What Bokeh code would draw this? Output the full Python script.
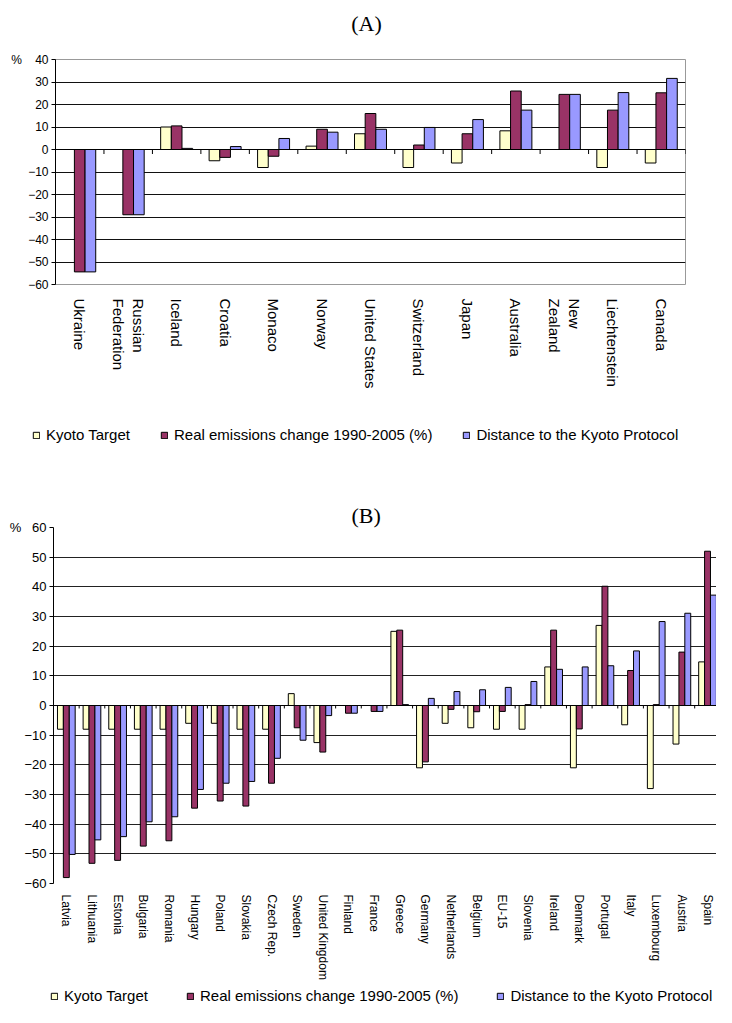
import numpy as np
from math import pi
from bokeh.plotting import figure
from bokeh.models import Range1d, FixedTicker, Legend, LegendItem, Label, Title
from bokeh.layouts import column
from bokeh.embed import file_html
from bokeh.resources import INLINE

# ---------------- data ----------------
series_names = ["Kyoto Target", "Real emissions change 1990-2005 (%)", "Distance to the Kyoto Protocol"]
series_colors = ["#FFFFCC", "#993366", "#9999FF"]

countries_a = ["Ukraine", "Russian\nFederation", "Iceland", "Croatia", "Monaco", "Norway",
               "United States", "Switzerland", "Japan", "Australia", "New\nZealand",
               "Liechtenstein", "Canada"]
kyoto_a = [0, 0, 10, -5, -8, 1.5, 7, -8, -6, 8.3, 0, -8, -6]
real_a = [-54.4, -29, 10.5, -3.5, -3, 9, 16, 2, 7, 26, 24.5, 17.5, 25.2]
dist_a = [-54.4, -29, 0.5, 1.3, 4.9, 7.7, 9, 9.8, 13.3, 17.5, 24.5, 25.3, 31.6]

countries_b = ["Latvia", "Lithuania", "Estonia", "Bulgaria", "Romania", "Hungary", "Poland",
               "Slovakia", "Czech Rep.", "Sweden", "United Kingdom", "Finland", "France",
               "Greece", "Germany", "Netherlands", "Belgium", "EU-15", "Slovenia", "Ireland",
               "Denmark", "Portugal", "Italy", "Luxembourg", "Austria", "Spain"]
kyoto_b = [-8, -8, -8, -8, -8, -6, -6, -8, -8, 4, -12.5, 0, 0, 25, -21, -6, -7.5, -8, -8,
           13, -21, 27, -6.5, -28, -13, 14.7]
real_b = [-58, -53.2, -52.2, -47.4, -45.6, -34.6, -32.2, -33.9, -26.2, -7.5, -15.7, -2.6, -2,
          25.4, -19, -1.3, -2.1, -2, 0.3, 25.4, -7.9, 40.2, 11.8, 0.3, 18, 52]
dist_b = [-50.2, -45.3, -44.2, -39.2, -37.5, -28.3, -26.2, -25.6, -17.8, -11.7, -3.4, -2.6, -2,
          0.3, 2.4, 4.7, 5.3, 6.1, 8.1, 12.2, 13, 13.4, 18.4, 28.3, 31.1, 37.2]

yticks_a = list(range(-60, 41, 10))
yticks_b = list(range(-60, 61, 10))

SANS = "Liberation Sans"
SERIF = "Liberation Serif"
W = 716
NB = "\u00a0"


def blank(height):
    """A figure whose frame is the whole canvas (used for titles / legends)."""
    f = figure(width=W, height=height, output_backend="svg", toolbar_location=None,
               title=None, x_axis_type=None, y_axis_type=None,
               x_range=Range1d(0, W), y_range=Range1d(0, height),
               min_border=0, min_border_left=0, min_border_right=0,
               min_border_top=0, min_border_bottom=0, frame_align=False)
    f.outline_line_color = None
    f.background_fill_color = "white"
    f.border_fill_color = "white"
    f.grid.visible = False
    return f


def legend_fig(height, cats, vals, loc, spacing):
    f = blank(height)
    rs = []
    for vv, col in zip(vals, series_colors):
        r = f.vbar(x=np.arange(len(cats)), top=vv, bottom=0, width=0.2,
                   fill_color=col, line_color="black", line_width=1, visible=False)
        rs.append(r)
    lg = Legend(items=[LegendItem(label=s, renderers=[r]) for s, r in zip(series_names, rs)],
                orientation="horizontal", location=loc, padding=0, margin=0,
                spacing=spacing, glyph_width=8, glyph_height=8, label_standoff=6,
                label_height=16, label_text_font=SANS, label_text_font_size="15px",
                label_text_color="black", border_line_color=None, background_fill_alpha=0,
                inactive_fill_alpha=0)
    f.add_layout(lg, "center")
    return f


def make_panel(cats, vals, yticks, width, height, borders, x_end, bar_w,
               xlab_size, ylab_size, xlab_standoff, tick_len, outline, grid_color, pct_gap):
    n = len(cats)
    p = figure(width=width, height=height, output_backend="svg", toolbar_location=None,
               title=None, frame_align=False,
               x_range=Range1d(-0.5, x_end), y_range=Range1d(yticks[0], yticks[-1]),
               min_border_left=borders[0], min_border_right=borders[1],
               min_border_top=borders[2], min_border_bottom=borders[3])
    p.outline_line_color = outline
    p.background_fill_color = "white"
    p.border_fill_color = "white"
    p.xgrid.grid_line_color = None
    p.ygrid.ticker = FixedTicker(ticks=yticks)
    p.ygrid.grid_line_color = grid_color
    p.ygrid.grid_line_width = 1

    # y axis ("%" unit shown next to the top tick)
    p.yaxis.ticker = FixedTicker(ticks=yticks)
    p.yaxis.major_label_overrides = {yticks[-1]: "%" + NB * pct_gap + str(yticks[-1])}
    p.yaxis.axis_line_color = "black"
    p.yaxis.major_tick_in = 0
    p.yaxis.major_tick_out = 4
    p.yaxis.minor_tick_line_color = None
    p.yaxis.major_label_standoff = 3
    p.yaxis.major_label_text_font = SANS
    p.yaxis.major_label_text_font_size = ylab_size
    p.yaxis.major_label_text_color = "black"

    # x axis (category labels only)
    xa = p.xaxis[0]
    xa.ticker = FixedTicker(ticks=list(range(n)))
    xa.major_label_overrides = {i: c for i, c in enumerate(cats)}
    xa.major_label_orientation = -pi / 2
    xa.axis_line_color = None
    xa.major_tick_line_color = None
    xa.major_tick_out = 0
    xa.major_tick_in = 0
    xa.minor_tick_line_color = None
    xa.major_label_standoff = xlab_standoff
    xa.major_label_text_font = SANS
    xa.major_label_text_font_size = xlab_size
    xa.major_label_text_color = "black"

    base = np.arange(n)
    for j, (vv, col) in enumerate(zip(vals, series_colors)):
        p.vbar(x=base + (j - 1) * bar_w, top=vv, bottom=0, width=bar_w,
               fill_color=col, line_color="black", line_width=1)

    # category axis at zero with tick marks between categories
    p.segment(x0=[-0.5], y0=[0], x1=[x_end], y1=[0], line_color="black", line_width=1)
    bnd = np.arange(n + 1) - 0.5
    p.segment(x0=bnd, y0=np.zeros(n + 1), x1=bnd, y1=np.full(n + 1, -tick_len),
              line_color="black", line_width=1)
    return p


# ---- (A) title strip: y 0..40
top_a = blank(40)
top_a.add_layout(Label(x=366, y=17.5, text="(A)", text_font=SERIF, text_font_size="22px",
                       text_align="center", text_baseline="middle", text_color="black"))

# ---- panel A: canvas y 40..410, frame x 55..685, y 59..284
pa = make_panel(countries_a, [kyoto_a, real_a, dist_a], yticks_a,
                width=W, height=370, borders=(55, 31, 19, 126), x_end=12.5, bar_w=0.22,
                xlab_size="15px", ylab_size="12px", xlab_standoff=14, tick_len=2.0,
                outline="#999999", grid_color="#111111", pct_gap=4)

# ---- legend A strip: y 410..500
leg_a = legend_fig(90, countries_a, [kyoto_a, real_a, dist_a], loc=(32, 57), spacing=30)

# ---- panel B: canvas y 500..985, frame x 53..716, y 527..883
pb = make_panel(countries_b, [kyoto_b, real_b, dist_b], yticks_b,
                width=W, height=485, borders=(53, 0, 27, 102), x_end=25.35, bar_w=0.23,
                xlab_size="12px", ylab_size="13px", xlab_standoff=11, tick_len=1.0,
                outline=None, grid_color="#222222", pct_gap=3)
pb.add_layout(Title(text="(B)", align="left", offset=298, standoff=0,
                    text_font=SERIF, text_font_size="22px", text_font_style="normal",
                    text_color="black"), "above")

# ---- legend B strip: y 985..1007
leg_b = legend_fig(22, countries_b, [kyoto_b, real_b, dist_b], loc=(50, 3), spacing=38)

layout = column(top_a, pa, leg_a, pb, leg_b, spacing=0)
open("out.html", "w").write(file_html(layout, INLINE))
